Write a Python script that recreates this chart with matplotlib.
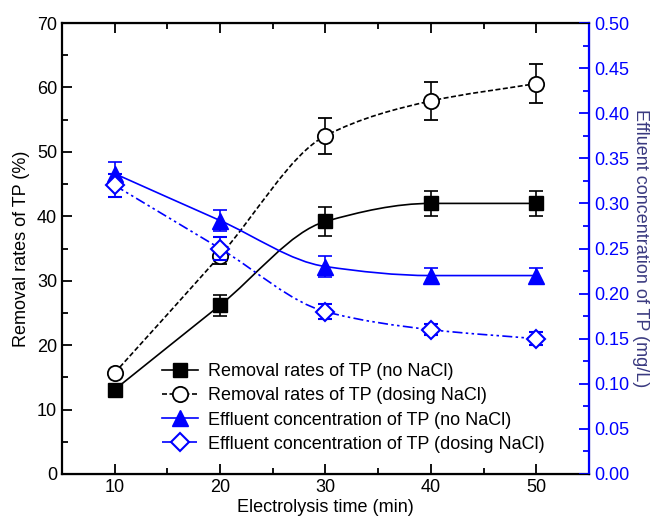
import matplotlib
matplotlib.use("Agg")
import matplotlib.pyplot as plt
import numpy as np
from matplotlib.path import Path
from matplotlib.patches import PathPatch
from matplotlib.lines import Line2D

plt.rcParams["font.family"] = ["Liberation Sans", "DejaVu Sans"]
plt.rcParams["font.size"] = 13

time = [10, 20, 30, 40, 50]

removal_no_nacl = [13.1, 26.2, 39.2, 42.0, 42.0]
removal_no_nacl_err = [0.0, 1.6, 2.2, 2.0, 2.0]
removal_nacl = [15.7, 33.9, 52.5, 57.9, 60.6]
removal_nacl_err = [0.0, 1.3, 2.8, 3.0, 3.0]

effluent_no_nacl = [0.333, 0.281, 0.230, 0.220, 0.220]
effluent_no_nacl_err = [0.013, 0.012, 0.012, 0.008, 0.008]
effluent_nacl = [0.320, 0.250, 0.180, 0.160, 0.150]
effluent_nacl_err = [0.013, 0.013, 0.008, 0.006, 0.007]

labels = [
    "Removal rates of TP (no NaCl)",
    "Removal rates of TP (dosing NaCl)",
    "Effluent concentration of TP (no NaCl)",
    "Effluent concentration of TP (dosing NaCl)",
]

BLUE = "#0000ff"


def smooth_path(x, y):
    # monotone cubic Bezier segments through the points (no overshoot)
    x = np.asarray(x, float)
    y = np.asarray(y, float)
    n = len(x)
    d = np.diff(y) / np.diff(x)
    m = np.zeros(n)
    m[0], m[-1] = d[0], d[-1]
    for i in range(1, n - 1):
        if d[i - 1] * d[i] > 0:
            m[i] = 2 / (1 / d[i - 1] + 1 / d[i])
    verts = [(x[0], y[0])]
    codes = [Path.MOVETO]
    for i in range(n - 1):
        h = x[i + 1] - x[i]
        verts += [(x[i] + h / 3, y[i] + m[i] * h / 3),
                  (x[i + 1] - h / 3, y[i + 1] - m[i + 1] * h / 3),
                  (x[i + 1], y[i + 1])]
        codes += [Path.CURVE4] * 3
    return Path(verts, codes)


fig = plt.figure(figsize=(6.58, 5.16), dpi=100)
ax = fig.add_axes([0.0942, 0.0814, 0.8009, 0.874])
ax2 = ax.twinx()

dashes = (0, (3, 1.5))
dashdotdot = (0, (6, 2, 1.5, 2, 1.5, 2))

ax.add_patch(PathPatch(smooth_path(time, removal_no_nacl), fill=False,
                       edgecolor="black", lw=1.2, zorder=2))
ax.add_patch(PathPatch(smooth_path(time, removal_nacl), fill=False,
                       edgecolor="black", lw=1.2, linestyle=dashes, zorder=2))
ax2.add_patch(PathPatch(smooth_path(time, effluent_no_nacl), fill=False,
                        edgecolor=BLUE, lw=1.2, zorder=2))
ax2.add_patch(PathPatch(smooth_path(time, effluent_nacl), fill=False,
                        edgecolor=BLUE, lw=1.2, linestyle=dashdotdot, zorder=2))

eb = dict(capsize=5, elinewidth=1.2, capthick=1.2, linestyle="none", zorder=3)
ax.errorbar(time, removal_no_nacl, yerr=removal_no_nacl_err, marker="s", ms=10,
            color="black", mfc="black", **eb)
ax.errorbar(time, removal_nacl, yerr=removal_nacl_err, marker="o", ms=11,
            color="black", mfc="white", mew=1.3, **eb)
ax2.errorbar(time, effluent_no_nacl, yerr=effluent_no_nacl_err, marker="^", ms=11,
             color=BLUE, mfc=BLUE, **eb)
ax2.errorbar(time, effluent_nacl, yerr=effluent_nacl_err, marker="D", ms=9,
             color=BLUE, mfc="white", mew=1.5, **eb)

ax.set_xlim(5, 55)
ax.set_ylim(0, 70)
ax2.set_ylim(0, 0.5)
ax.set_xticks([10, 20, 30, 40, 50])
ax.set_xticks(np.arange(15, 55, 10), minor=True)
ax.set_yticks(np.arange(0, 71, 10))
ax.set_yticks(np.arange(5, 70, 10), minor=True)
ax2.set_yticks(np.arange(0, 0.51, 0.05))
ax2.set_yticks(np.arange(0.025, 0.5, 0.05), minor=True)
ax2.yaxis.set_major_formatter(matplotlib.ticker.FormatStrFormatter("%.2f"))

ax.tick_params(which="both", direction="in", top=True, right=False, width=1.3)
ax.tick_params(which="major", length=7, labelsize=13)
ax.tick_params(which="minor", length=4)
ax2.tick_params(which="both", direction="in", colors=BLUE, width=1.3)
ax2.tick_params(which="major", length=7, labelsize=13)
ax2.tick_params(which="minor", length=4)

for s in ["left", "bottom", "top"]:
    ax.spines[s].set_linewidth(1.6)
ax2.spines["right"].set_color(BLUE)
ax2.spines["right"].set_linewidth(1.6)
ax2.spines["left"].set_visible(False)

ax.set_xlabel("Electrolysis time (min)", fontsize=13, labelpad=2)
ax.set_ylabel("Removal rates of TP (%)", fontsize=13, labelpad=5)
ax2.set_ylabel("Effluent concentration of TP (mg/L)", fontsize=13,
               color="#3a3a80", rotation=270, labelpad=14)

handles = [
    Line2D([], [], color="black", lw=1.2, marker="s", ms=10),
    Line2D([], [], color="black", lw=1.2, linestyle=dashes, marker="o",
           ms=11, mfc="white", mew=1.3),
    Line2D([], [], color=BLUE, lw=1.2, marker="^", ms=11),
    Line2D([], [], color=BLUE, lw=1.2, linestyle=dashdotdot, marker="D", ms=9,
           mfc="white", mew=1.5),
]
ax2.legend(handles, labels, loc="lower left", bbox_to_anchor=(0.19, 0.047),
           frameon=False, fontsize=13, handlelength=2.0, handletextpad=0.55,
           labelspacing=0.40, borderpad=0, borderaxespad=0)

fig.savefig("out.png", dpi=100)
